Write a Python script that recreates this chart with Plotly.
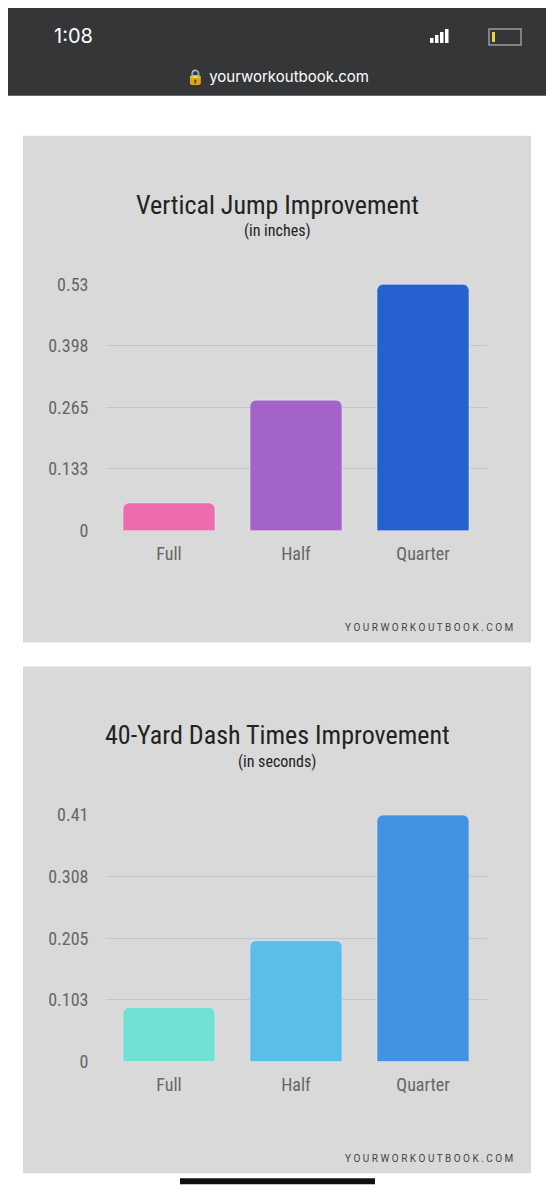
import plotly.graph_objects as go

categories = ["Full", "Half", "Quarter"]
jump_values = [0.060, 0.281, 0.53]
dash_values = [0.090, 0.201, 0.41]
jump_ticks = [0, 0.133, 0.265, 0.398, 0.53]
dash_ticks = [0, 0.103, 0.205, 0.308, 0.41]
jump_colors = ["#EE6BAE", "#A463C8", "#2760D0"]
dash_colors = ["#6FE2D3", "#5BBEEA", "#4192E2"]

W, H, OFF = 538.0, 1184.0, 8.0
def px(p):
    return (p - OFF) / W
def py(p):
    return 1 - ((p - 18) / 0.9846) / H

NARROW = "Liberation Sans Narrow, Roboto Condensed, Roboto"

fig = go.Figure()
fig.add_trace(go.Bar(x=categories, y=jump_values, marker_color=jump_colors,
                     xaxis="x", yaxis="y", width=0.724, hoverinfo="skip"))
fig.add_trace(go.Bar(x=categories, y=dash_values, marker_color=dash_colors,
                     xaxis="x2", yaxis="y2", width=0.724, hoverinfo="skip"))

tickfont = dict(family=NARROW, size=18, color="#666666")
xdom = [px(105.5), px(486.5)]
ax_common = dict(showline=False, zeroline=False, tickfont=tickfont)
fig.update_layout(
    width=W, height=H, margin=dict(l=0, r=0, t=0, b=0),
    paper_bgcolor="white", plot_bgcolor="rgba(0,0,0,0)", showlegend=False,
    barcornerradius=6,
    xaxis=dict(domain=xdom, anchor="y", showgrid=False, ticks="", ticklabelstandoff=10, **ax_common),
    yaxis=dict(domain=[py(531), py(284)], range=[0, 0.53], tickvals=jump_ticks,
               ticktext=["0", "0.133", "0.265", "0.398", "0.53"], gridcolor="#C6C6C6",
               ticklabelstandoff=16, **ax_common),
    xaxis2=dict(domain=xdom, anchor="y2", showgrid=False, ticks="", ticklabelstandoff=10, **ax_common),
    yaxis2=dict(domain=[py(1063), py(816)], range=[0, 0.41], tickvals=dash_ticks,
                ticktext=["0", "0.103", "0.205", "0.308", "0.41"], gridcolor="#C6C6C6",
                ticklabelstandoff=16, **ax_common),
)

def rect(x0, y0, x1, y1, **kw):
    return dict(type="rect", xref="paper", yref="paper", x0=px(x0), x1=px(x1),
                y0=py(y1), y1=py(y0), **kw)

shapes = [
    rect(23, 135, 531, 643, fillcolor="#D9D9D9", line_width=0, layer="below"),
    rect(23, 667, 531, 1175, fillcolor="#D9D9D9", line_width=0, layer="below"),
    rect(-10, -40, 570, 95, fillcolor="#353638", line_width=0, layer="above"),
    rect(180, 1180, 375, 1186, fillcolor="#111111", line_width=0, layer="above"),
    rect(489, 28, 521, 44, line=dict(color="#9A9A9A", width=1.5),
         fillcolor="rgba(0,0,0,0)", layer="above"),
    rect(492, 31, 495, 41, fillcolor="#E8D33A", line_width=0, layer="above"),
]
for i, h in enumerate([5, 8, 11, 14]):
    x0 = 430 + i * 5
    shapes.append(rect(x0, 42 - h, x0 + 3.5, 42, fillcolor="white", line_width=0, layer="above"))
fig.update_layout(shapes=shapes)

def ann(text, x, y, size, color="#222222", family="Roboto", xanchor="center", **kw):
    fig.add_annotation(text=text, x=px(x), y=py(y), xref="paper", yref="paper",
                       showarrow=False, xanchor=xanchor, yanchor="middle",
                       font=dict(family=family, size=size, color=color), **kw)

ann("Vertical Jump Improvement", 277, 204, 26, family=NARROW)
ann("(in inches)", 277, 230, 16, family=NARROW)
ann("40-Yard Dash Times Improvement", 277, 736, 26, family=NARROW)
ann("(in seconds)", 277, 762, 16, family=NARROW)
ann("Y O U R W O R K O U T B O O K . C O M", 515, 628, 10, color="#444444", xanchor="right")
ann("Y O U R W O R K O U T B O O K . C O M", 515, 1160, 10, color="#444444", xanchor="right")
ann("1:08", 73, 35, 20, color="white", family="Inter")
ann("🔒 yourworkoutbook.com", 277, 76, 15, color="white", family="Inter")

fig.write_html("out.html")
